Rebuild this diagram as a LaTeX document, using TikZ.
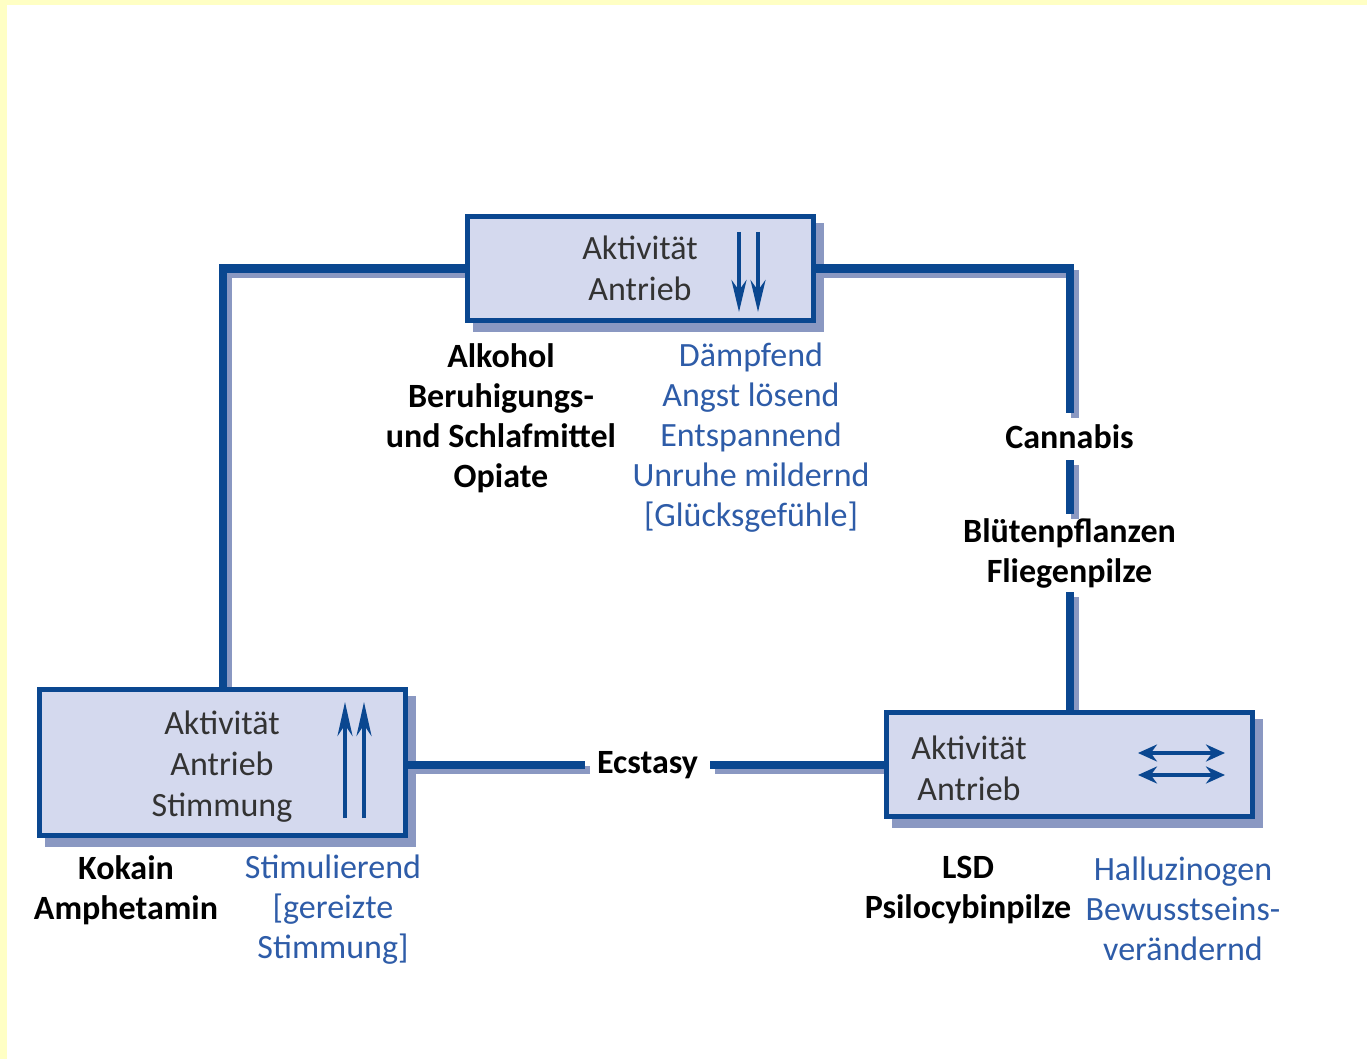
\documentclass[tikz,border=0pt]{standalone}
\usepackage{fontspec}
\setmainfont{Carlito}
\usetikzlibrary{arrows.meta,calc}
\definecolor{lineblue}{HTML}{0A4790}
\definecolor{boxfill}{HTML}{D4D9EE}
\definecolor{shadowc}{HTML}{8A98C2}
\definecolor{txtblue}{HTML}{2E5CA8}
\definecolor{txtdark}{HTML}{333333}
\definecolor{paleyellow}{HTML}{FFFFC4}
\pgfdeclarelayer{shadowlayer}
\pgfdeclarelayer{linelayer}
\pgfsetlayers{shadowlayer,linelayer,main}
\begin{document}
\begin{tikzpicture}[x=1pt,y=-1pt,
  box/.style={draw=lineblue, line width=5pt, fill=boxfill, inner sep=0pt},
  boxtxt/.style={font=\fontsize{34}{41}\selectfont, text=txtdark, align=center, inner sep=0pt},
  drug/.style={font=\fontsize{34}{40}\selectfont\bfseries, text=black, align=center, inner sep=0pt},
  effect/.style={font=\fontsize{34}{40}\selectfont, text=txtblue, align=center, inner sep=0pt},
  conn/.style={draw=lineblue, line width=8pt},
  connshadow/.style={draw=shadowc, line width=8pt, transform canvas={shift={(5pt,-5pt)}}},
  arr/.style={draw=lineblue, line width=4pt},
]
\useasboundingbox (0,0) rectangle (1367,1059);
\begin{pgfonlayer}{shadowlayer}
\fill[white] (0,0) rectangle (1367,1059);
\fill[paleyellow] (0,0) rectangle (1367,5);
\fill[paleyellow] (0,0) rectangle (7,1059);
\end{pgfonlayer}

% boxes
\node[box, minimum width=346pt, minimum height=104pt] (top) at (640.5,268.5) {};
\node[box, minimum width=366pt, minimum height=146pt] (left) at (222.5,762.5) {};
\node[box, minimum width=366pt, minimum height=104pt] (right) at (1069.5,764.5) {};

% box texts
\node[boxtxt] (toptxt) at (640,268) {Aktivität\\Antrieb};
\node[boxtxt] (lefttxt) at (222,767) {Aktivität\\Antrieb\\Stimmung};
\node[boxtxt] (righttxt) at (969,768) {Aktivität\\Antrieb};

% arrows in boxes
\draw[arr, -{Stealth[length=32pt,width=15pt]}] (739,232) -- (739,312);
\draw[arr, -{Stealth[length=32pt,width=15pt]}] (758,232) -- (758,312);
\draw[arr, -{Stealth[length=34pt,width=15pt]}] (345,818) -- (345,702);
\draw[arr, -{Stealth[length=34pt,width=15pt]}] (364,818) -- (364,702);
\draw[arr, line width=4.5pt, {Stealth[length=19pt,width=17pt]}-{Stealth[length=19pt,width=17pt]}] (1138,753) -- (1225,753);
\draw[arr, line width=4.5pt, {Stealth[length=19pt,width=17pt]}-{Stealth[length=19pt,width=17pt]}] (1138,775) -- (1225,775);

% labels on connectors
\node[drug, minimum height=47pt] (cann) at (1069.5,436.5) {Cannabis};
\node[drug, minimum height=78pt] (blueten) at (1069.5,553) {Blütenpflanzen\\Fliegenpilze};
\node[drug, minimum width=125pt] (ecst) at (647.5,765) {Ecstasy};

% drug names and effects
\node[drug] (dtop) at (501,418) {Alkohol\\Beruhigungs-\\und Schlafmittel\\Opiate};
\node[effect] (etop) at (751,438) {Dämpfend\\Angst lösend\\Entspannend\\Unruhe mildernd\\{[}Glücksgefühle{]}};
\node[drug] (dleft) at (126,890) {Kokain\\Amphetamin};
\node[effect] (eleft) at (333,910) {Stimulierend\\{[}gereizte\\Stimmung{]}};
\node[drug] (dright) at (968,890) {LSD\\Psilocybinpilze};
\node[effect] (eright) at (1183,909) {Halluzinogen\\Bewusstseins-\\verändernd};

% box shadows
\begin{pgfonlayer}{shadowlayer}
\foreach \b in {top,left,right}{
  \fill[shadowc] ([shift={(8,9)}]\b.north west) rectangle ([shift={(8,9)}]\b.south east);
}
\end{pgfonlayer}

% connectors
\begin{pgfonlayer}{linelayer}
\draw[connshadow] (top.west) -| (left.north);
\draw[connshadow] (top.east) -| (cann.north);
\draw[connshadow] (cann.south) -- (blueten.north);
\draw[connshadow] (blueten.south) -- (right.north);
\draw[connshadow] (left.east |- ecst.west) -- (ecst.west);
\draw[connshadow] (ecst.east) -- (right.west |- ecst.east);
\draw[conn] (top.west) -| (left.north);
\draw[conn] (top.east) -| (cann.north);
\draw[conn] (cann.south) -- (blueten.north);
\draw[conn] (blueten.south) -- (right.north);
\draw[conn] (left.east |- ecst.west) -- (ecst.west);
\draw[conn] (ecst.east) -- (right.west |- ecst.east);
\end{pgfonlayer}
\end{tikzpicture}
\end{document}
